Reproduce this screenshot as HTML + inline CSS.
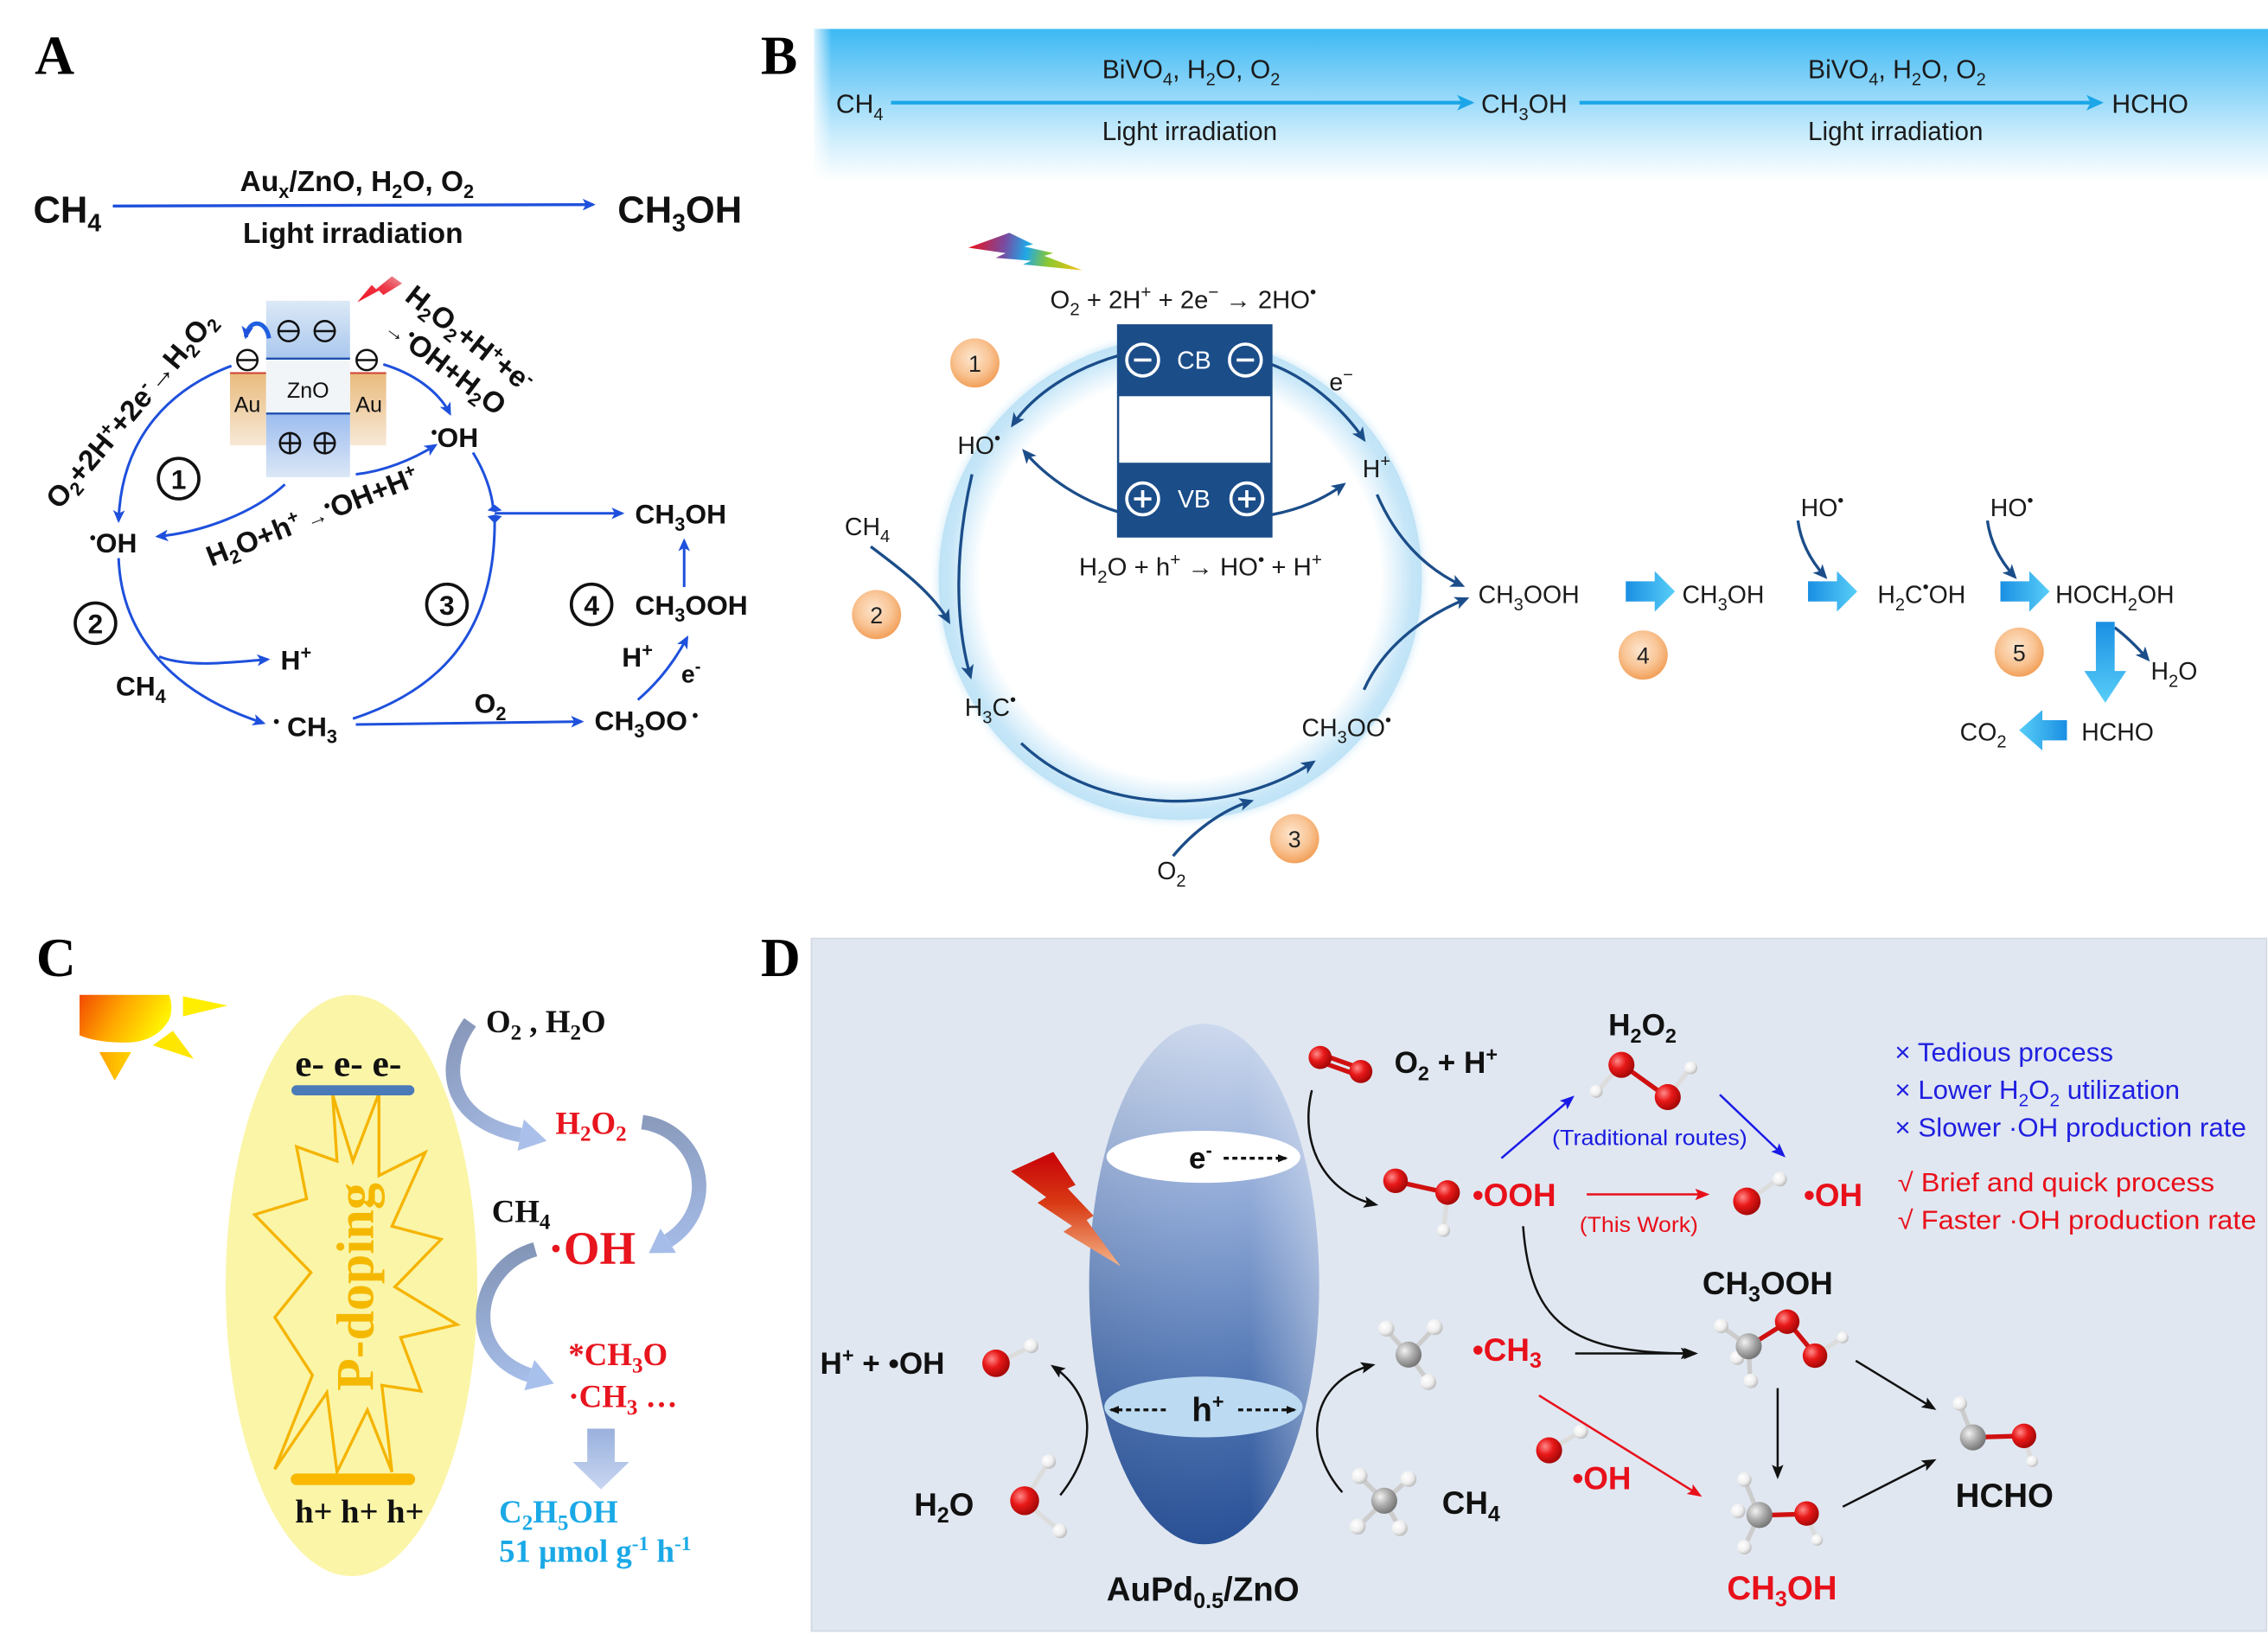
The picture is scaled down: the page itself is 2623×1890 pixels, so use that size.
<!DOCTYPE html>
<html><head><meta charset="utf-8">
<style>
html,body{margin:0;padding:0;background:#fff;}
svg{display:block;}
</style></head><body>
<svg xmlns="http://www.w3.org/2000/svg" width="2623" height="1890" viewBox="0 0 1568 1130" preserveAspectRatio="none">
<defs>
<marker id="mA" viewBox="0 0 10 10" refX="8" refY="5" markerWidth="9" markerHeight="9" orient="auto" markerUnits="userSpaceOnUse"><path d="M0,0.5 L10,5 L0,9.5 L2.5,5 z" fill="#1e50dc"/></marker>
<marker id="mB" viewBox="0 0 10 10" refX="8" refY="5" markerWidth="10" markerHeight="10" orient="auto" markerUnits="userSpaceOnUse"><path d="M0,0.5 L10,5 L0,9.5 L2.5,5 z" fill="#1b4d89"/></marker>
<marker id="mS" viewBox="0 0 10 10" refX="8" refY="5" markerWidth="12" markerHeight="12" orient="auto" markerUnits="userSpaceOnUse"><path d="M0,0.5 L10,5 L0,9.5 L2.5,5 z" fill="#1ca6e8"/></marker>
<marker id="mK" viewBox="0 0 10 10" refX="8" refY="5" markerWidth="10" markerHeight="10" orient="auto" markerUnits="userSpaceOnUse"><path d="M0,1 L10,5 L0,9 L2,5 z" fill="#111"/></marker>
<marker id="mKs" viewBox="0 0 10 10" refX="8" refY="5" markerWidth="7" markerHeight="7" orient="auto" markerUnits="userSpaceOnUse"><path d="M0,1 L10,5 L0,9 z" fill="#111"/></marker>
<marker id="mR" viewBox="0 0 10 10" refX="8" refY="5" markerWidth="10" markerHeight="10" orient="auto" markerUnits="userSpaceOnUse"><path d="M0,1 L10,5 L0,9 L2,5 z" fill="#e8101a"/></marker>
<marker id="mU" viewBox="0 0 10 10" refX="8" refY="5" markerWidth="10" markerHeight="10" orient="auto" markerUnits="userSpaceOnUse"><path d="M0,1 L10,5 L0,9 L2,5 z" fill="#1a1ae6"/></marker>

<linearGradient id="gZnTop" x1="0" y1="0" x2="0" y2="1"><stop offset="0" stop-color="#dce9f6"/><stop offset="1" stop-color="#a9c7ee"/></linearGradient>
<linearGradient id="gZnBot" x1="0" y1="0" x2="0" y2="1"><stop offset="0" stop-color="#9cbcef"/><stop offset="1" stop-color="#dbe7f6"/></linearGradient>
<linearGradient id="gAu" x1="0" y1="0" x2="0" y2="1"><stop offset="0" stop-color="#e9bb7e"/><stop offset="1" stop-color="#f7e8d6"/></linearGradient>
<linearGradient id="gRedA" x1="0" y1="1" x2="1" y2="0"><stop offset="0" stop-color="#f01020"/><stop offset="0.6" stop-color="#ee3a48"/><stop offset="1" stop-color="#e898a0"/></linearGradient>
<linearGradient id="gSky" x1="0" y1="0" x2="0" y2="1"><stop offset="0" stop-color="#3cb9f3"/><stop offset="0.35" stop-color="#82d1f8"/><stop offset="0.7" stop-color="#c9ecfc"/><stop offset="1" stop-color="#ffffff"/></linearGradient>
<linearGradient id="gSkyL" x1="0" y1="0" x2="1" y2="0"><stop offset="0" stop-color="#fff" stop-opacity="0.8"/><stop offset="1" stop-color="#fff" stop-opacity="0"/></linearGradient>
<radialGradient id="gRing" cx="0.5" cy="0.5" r="0.5"><stop offset="0" stop-color="#fff"/><stop offset="0.83" stop-color="#fff"/><stop offset="0.94" stop-color="#cfeaf9"/><stop offset="1" stop-color="#b9e0f5"/></radialGradient>
<radialGradient id="gOr" cx="0.45" cy="0.4" r="0.6"><stop offset="0" stop-color="#fde6cf"/><stop offset="0.6" stop-color="#f9c494"/><stop offset="1" stop-color="#f2a05a"/></radialGradient>
<linearGradient id="gBlk" x1="0" y1="0" x2="1" y2="0"><stop offset="0" stop-color="#1a8fe3"/><stop offset="1" stop-color="#58cef8"/></linearGradient>
<linearGradient id="gBlkL" x1="1" y1="0" x2="0" y2="0"><stop offset="0" stop-color="#1a8fe3"/><stop offset="1" stop-color="#58cef8"/></linearGradient>
<linearGradient id="gBlkD" x1="0" y1="0" x2="0" y2="1"><stop offset="0" stop-color="#1a8fe3"/><stop offset="1" stop-color="#58cef8"/></linearGradient>
<linearGradient id="gRain" gradientUnits="userSpaceOnUse" x1="669" y1="172" x2="748" y2="187"><stop offset="0" stop-color="#f01018"/><stop offset="0.3" stop-color="#7a4aa0"/><stop offset="0.5" stop-color="#20a8e8"/><stop offset="0.7" stop-color="#8cc830"/><stop offset="1" stop-color="#f8c010"/></linearGradient>
<linearGradient id="gSun" x1="0" y1="0" x2="1" y2="0.3"><stop offset="0" stop-color="#f24a00"/><stop offset="0.5" stop-color="#ffa800"/><stop offset="1" stop-color="#fff200"/></linearGradient>
<linearGradient id="gRay" x1="0" y1="0" x2="1" y2="0"><stop offset="0" stop-color="#ffa400"/><stop offset="1" stop-color="#ffd400"/></linearGradient>
<linearGradient id="gC1" gradientUnits="userSpaceOnUse" x1="320" y1="705" x2="380" y2="790"><stop offset="0" stop-color="#8797ba"/><stop offset="1" stop-color="#aac0ea"/></linearGradient>
<linearGradient id="gC2" gradientUnits="userSpaceOnUse" x1="444" y1="775" x2="450" y2="868"><stop offset="0" stop-color="#8a9bbd"/><stop offset="1" stop-color="#a6bde9"/></linearGradient>
<linearGradient id="gC3" gradientUnits="userSpaceOnUse" x1="370" y1="862" x2="385" y2="958"><stop offset="0" stop-color="#8496b8"/><stop offset="1" stop-color="#a8c0ec"/></linearGradient>
<linearGradient id="gCd" x1="0" y1="0" x2="0" y2="1"><stop offset="0" stop-color="#9ab1dd"/><stop offset="1" stop-color="#c8d6f1"/></linearGradient>
<linearGradient id="gDell" x1="0" y1="0" x2="0" y2="1"><stop offset="0" stop-color="#cdd9ee"/><stop offset="0.35" stop-color="#8ea8d6"/><stop offset="0.7" stop-color="#4f74b2"/><stop offset="1" stop-color="#274f95"/></linearGradient>
<linearGradient id="gDellH" x1="0" y1="0" x2="1" y2="0"><stop offset="0" stop-color="#000" stop-opacity="0.06"/><stop offset="0.7" stop-color="#fff" stop-opacity="0"/><stop offset="1" stop-color="#fff" stop-opacity="0.35"/></linearGradient>
<linearGradient id="gBoltD" x1="0" y1="0" x2="0" y2="1"><stop offset="0" stop-color="#c80008"/><stop offset="0.45" stop-color="#d83a14"/><stop offset="1" stop-color="#f5b488"/></linearGradient>
<radialGradient id="bR" cx="0.35" cy="0.35" r="0.7"><stop offset="0" stop-color="#ff8a8a"/><stop offset="0.45" stop-color="#e81818"/><stop offset="1" stop-color="#a00606"/></radialGradient>
<radialGradient id="bW" cx="0.35" cy="0.35" r="0.7"><stop offset="0" stop-color="#ffffff"/><stop offset="0.6" stop-color="#eeeeee"/><stop offset="1" stop-color="#b8b8b8"/></radialGradient>
<radialGradient id="bG" cx="0.35" cy="0.35" r="0.7"><stop offset="0" stop-color="#f2f2f2"/><stop offset="0.5" stop-color="#acacac"/><stop offset="1" stop-color="#727272"/></radialGradient>
<filter id="blur2"><feGaussianBlur stdDeviation="3"/></filter>
</defs>

<!-- ===== Panel labels ===== -->
<g font-family="Liberation Serif, serif" font-weight="bold" font-size="38" fill="#000">
<text x="24" y="51">A</text>
<text x="526" y="51">B</text>
<text x="25" y="675">C</text>
<text x="526" y="675">D</text>
</g>

<!-- ===== Panel A ===== -->
<g font-family="Liberation Sans, Arial, sans-serif" font-weight="bold" fill="#111">
<text x="23" y="154" font-size="26">CH<tspan dy="6" font-size="17">4</tspan></text>
<text x="427" y="154" font-size="26">CH<tspan dy="6" font-size="17">3</tspan><tspan dy="-6">OH</tspan></text>
<text x="166" y="132" font-size="20">Au<tspan dy="5" font-size="13">x</tspan><tspan dy="-5">/ZnO, H</tspan><tspan dy="5" font-size="13">2</tspan><tspan dy="-5">O, O</tspan><tspan dy="5" font-size="13">2</tspan></text>
<text x="168" y="168" font-size="20">Light irradiation</text>
</g>
<path d="M78,142.5 L410,141.5" stroke="#1e50dc" stroke-width="2" fill="none" marker-end="url(#mA)"/>

<!-- band diagram -->
<rect x="159" y="258" width="25" height="50" fill="url(#gAu)"/>
<rect x="242" y="258" width="25" height="50" fill="url(#gAu)"/>
<line x1="159" y1="258" x2="184" y2="258" stroke="#d04030" stroke-width="1.2"/>
<line x1="242" y1="258" x2="267" y2="258" stroke="#d04030" stroke-width="1.2"/>
<rect x="184" y="208" width="58" height="40" fill="url(#gZnTop)"/>
<rect x="184" y="248" width="58" height="38" fill="#f2f5f8"/>
<rect x="184" y="286" width="58" height="44" fill="url(#gZnBot)"/>
<line x1="184" y1="248" x2="242" y2="248" stroke="#1e50b0" stroke-width="1.4"/>
<line x1="184" y1="286" x2="242" y2="286" stroke="#1e50b0" stroke-width="1.4"/>
<g font-family="Liberation Sans, Arial, sans-serif" font-size="15" fill="#111">
<text x="213" y="275" text-anchor="middle">ZnO</text>
<text x="171" y="285" text-anchor="middle">Au</text>
<text x="255" y="285" text-anchor="middle">Au</text>
</g>
<g stroke="#111" stroke-width="1.5" fill="none">
<circle cx="199.5" cy="229" r="7"/><line x1="193" y1="229" x2="206" y2="229"/>
<circle cx="224.5" cy="229" r="7"/><line x1="218" y1="229" x2="231" y2="229"/>
<circle cx="171" cy="249" r="7"/><line x1="164.5" y1="249" x2="177.5" y2="249"/>
<circle cx="253.5" cy="249" r="7"/><line x1="247" y1="249" x2="260" y2="249"/>
<circle cx="200.5" cy="306.5" r="7"/><line x1="194" y1="306.5" x2="207" y2="306.5"/><line x1="200.5" y1="300" x2="200.5" y2="313"/>
<circle cx="224.5" cy="306.5" r="7"/><line x1="218" y1="306.5" x2="231" y2="306.5"/><line x1="224.5" y1="300" x2="224.5" y2="313"/>
</g>
<path d="M186,234 C184,221 172,220 170,233" stroke="#2060e0" stroke-width="3" fill="none" marker-end="url(#mA)"/>
<polygon points="247,209 257,197 260,200 271,191 278,196 265,204 262,201" fill="url(#gRedA)"/>

<g stroke="#1e50dc" stroke-width="1.8" fill="none">
<path d="M160,253 C120,268 84,300 82,360" marker-end="url(#mA)"/>
<path d="M197,335 C175,355 140,368 109,371" marker-end="url(#mA)"/>
<path d="M246,328 C265,326 285,318 301,308" marker-end="url(#mA)"/>
<path d="M265,252 C285,258 303,270 311,286" marker-end="url(#mA)"/>
<path d="M327,313 C335,326 340,340 341,352"/>
<path d="M244,497 C302,478 342,440 342,361"/>
<path d="M342,355 L430,355" marker-end="url(#mA)"/>
<path d="M82,386 C84,440 120,480 182,500" marker-end="url(#mA)"/>
<path d="M110,454 C130,462 160,458 185,456" marker-end="url(#mA)"/>
<path d="M246,501 L402,499" marker-end="url(#mA)"/>
<path d="M441,484 C455,472 466,458 475,441" marker-end="url(#mA)"/>
<path d="M473,406 L473,374" marker-end="url(#mA)"/>
</g>
<polygon points="342,349 337,353 342,354 347,353" fill="#1e50dc"/>
<polygon points="342,356 337,357 342,362 347,357" fill="#1e50dc"/>

<g font-family="Liberation Sans, Arial, sans-serif" font-weight="bold" fill="#111" font-size="19">
<text transform="translate(41,353) rotate(-50)" font-size="20">O<tspan dy="4" font-size="13">2</tspan><tspan dy="-4">+2H</tspan><tspan dy="-7" font-size="13">+</tspan><tspan dy="7">+2e</tspan><tspan dy="-7" font-size="13">-</tspan><tspan dy="7" font-weight="normal">→</tspan>H<tspan dy="4" font-size="13">2</tspan><tspan dy="-4">O</tspan><tspan dy="4" font-size="13">2</tspan></text>
<text transform="translate(279,207) rotate(38)" font-size="20">H<tspan dy="4" font-size="13">2</tspan><tspan dy="-4">O</tspan><tspan dy="4" font-size="13">2</tspan><tspan dy="-4">+H</tspan><tspan dy="-7" font-size="13">+</tspan><tspan dy="7">+e</tspan><tspan dy="-7" font-size="13">-</tspan></text>
<text transform="translate(265,229) rotate(37)" font-size="20"><tspan font-weight="normal" font-size="15">→</tspan><tspan font-size="12" dy="-6">•</tspan><tspan dy="6">OH+H</tspan><tspan dy="4" font-size="13">2</tspan><tspan dy="-4">O</tspan></text>
<text transform="translate(146,392) rotate(-21.5)" font-size="20">H<tspan dy="4" font-size="13">2</tspan><tspan dy="-4">O+h</tspan><tspan dy="-7" font-size="13">+</tspan><tspan dy="7" font-weight="normal" font-size="15"> →</tspan><tspan font-size="12" dy="-6">•</tspan><tspan dy="6">OH+H</tspan><tspan dy="-7" font-size="13">+</tspan></text>

<text x="62" y="382"><tspan font-size="12" dy="-6">•</tspan><tspan dy="6">OH</tspan></text>
<text x="298" y="309"><tspan font-size="12" dy="-6">•</tspan><tspan dy="6">OH</tspan></text>
<text x="439" y="362">CH<tspan dy="5" font-size="13">3</tspan><tspan dy="-5">OH</tspan></text>
<text x="439" y="425">CH<tspan dy="5" font-size="13">3</tspan><tspan dy="-5">OOH</tspan></text>
<text x="194" y="463">H<tspan dy="-7" font-size="13">+</tspan></text>
<text x="80" y="481">CH<tspan dy="5" font-size="13">4</tspan></text>
<text x="189" y="509"><tspan font-size="12" dy="-6">•</tspan><tspan dy="6"> CH</tspan><tspan dy="5" font-size="13">3</tspan></text>
<text x="328" y="493">O<tspan dy="5" font-size="13">2</tspan></text>
<text x="411" y="505">CH<tspan dy="5" font-size="13">3</tspan><tspan dy="-5">OO</tspan><tspan font-size="12" dy="-6"> •</tspan></text>
<text x="430" y="461">H<tspan dy="-7" font-size="13">+</tspan></text>
<text x="471" y="472" font-size="17">e<tspan dy="-7" font-size="12">-</tspan></text>
</g>
<g font-family="Liberation Sans, Arial, sans-serif" font-weight="bold" font-size="19" fill="#111" text-anchor="middle">
<circle cx="123.5" cy="331" r="14" fill="none" stroke="#111" stroke-width="2.2"/><text x="123.5" y="338">1</text>
<circle cx="66" cy="431" r="14" fill="none" stroke="#111" stroke-width="2.2"/><text x="66" y="438">2</text>
<circle cx="309" cy="418" r="14" fill="none" stroke="#111" stroke-width="2.2"/><text x="309" y="425">3</text>
<circle cx="409" cy="418" r="14" fill="none" stroke="#111" stroke-width="2.2"/><text x="409" y="425">4</text>
</g>

<!-- ===== Panel B ===== -->
<rect x="563" y="20" width="1005" height="105" fill="url(#gSky)"/>
<rect x="563" y="20" width="12" height="105" fill="url(#gSkyL)"/>
<path d="M616,71 L1017,71" stroke="#1ca6e8" stroke-width="2.6" marker-end="url(#mS)"/>
<path d="M1092,71 L1452,71" stroke="#1ca6e8" stroke-width="2.6" marker-end="url(#mS)"/>
<g font-family="Liberation Sans, Arial, sans-serif" font-size="18" fill="#1a1a1a">
<text x="578" y="78">CH<tspan dy="5" font-size="12">4</tspan></text>
<text x="762" y="54" textLength="123" lengthAdjust="spacingAndGlyphs">BiVO<tspan dy="5" font-size="12">4</tspan><tspan dy="-5">, H</tspan><tspan dy="5" font-size="12">2</tspan><tspan dy="-5">O, O</tspan><tspan dy="5" font-size="12">2</tspan></text>
<text x="762" y="97" textLength="121" lengthAdjust="spacingAndGlyphs">Light irradiation</text>
<text x="1024" y="78">CH<tspan dy="5" font-size="12">3</tspan><tspan dy="-5">OH</tspan></text>
<text x="1250" y="54" textLength="123" lengthAdjust="spacingAndGlyphs">BiVO<tspan dy="5" font-size="12">4</tspan><tspan dy="-5">, H</tspan><tspan dy="5" font-size="12">2</tspan><tspan dy="-5">O, O</tspan><tspan dy="5" font-size="12">2</tspan></text>
<text x="1250" y="97" textLength="121" lengthAdjust="spacingAndGlyphs">Light irradiation</text>
<text x="1460" y="78">HCHO</text>
</g>

<!-- ring -->
<circle cx="816" cy="400" r="167" fill="url(#gRing)"/>
<circle cx="816" cy="400" r="164" fill="none" stroke="#c3e5f7" stroke-width="6" filter="url(#blur2)"/>

<!-- rainbow lightning -->
<polygon points="669.5,171.3 697.8,161 714.3,169 708,170.5 728.2,175 722,177 748.2,186.9 707.3,182.9 712.9,180.3 688.4,178.3 695.3,175" fill="url(#gRain)"/>

<!-- CB/VB box -->
<rect x="773" y="225" width="106" height="146" fill="#fff" stroke="#1b4d89" stroke-width="1.5"/>
<rect x="773" y="225" width="106" height="49" fill="#1b4d89"/>
<rect x="773" y="320" width="106" height="51" fill="#1b4d89"/>
<g stroke="#fff" stroke-width="2.2" fill="none">
<circle cx="790" cy="249" r="11"/><line x1="784" y1="249" x2="796" y2="249"/>
<circle cx="861" cy="249" r="11"/><line x1="855" y1="249" x2="867" y2="249"/>
<circle cx="790" cy="345" r="11"/><line x1="784" y1="345" x2="796" y2="345"/><line x1="790" y1="339" x2="790" y2="351"/>
<circle cx="862" cy="345" r="11"/><line x1="856" y1="345" x2="868" y2="345"/><line x1="862" y1="339" x2="862" y2="351"/>
</g>
<g font-family="Liberation Sans, Arial, sans-serif" font-size="17" fill="#fff" text-anchor="middle">
<text x="825.5" y="255">CB</text>
<text x="825.5" y="351">VB</text>
</g>

<g stroke="#1b4d89" stroke-width="2" fill="none">
<path d="M773,246 C742,255 715,272 700,294" marker-end="url(#mB)"/>
<path d="M773,354 C748,346 725,332 708,312" marker-end="url(#mB)"/>
<path d="M879,252 C905,262 928,282 943,304" marker-end="url(#mB)"/>
<path d="M879,356 C900,352 915,345 929,335" marker-end="url(#mB)"/>
<path d="M952,342 C965,372 985,393 1011,405" marker-end="url(#mB)"/>
<path d="M672,328 C660,380 660,430 671,468" marker-end="url(#mB)"/>
<path d="M602,378 C622,393 645,410 656,430" marker-end="url(#mB)"/>
<path d="M706,514 C760,565 850,565 908,527" marker-end="url(#mB)"/>
<path d="M811,592 C825,575 845,560 865,554" marker-end="url(#mB)"/>
<path d="M943,477 C955,450 980,428 1014,414" marker-end="url(#mB)"/>
<path d="M1243,360 C1245,375 1252,388 1262,399" marker-end="url(#mB)"/>
<path d="M1374,360 C1376,375 1383,388 1393,399" marker-end="url(#mB)"/>
<path d="M1462,434 C1470,440 1478,448 1485,456" marker-end="url(#mB)"/>
</g>

<!-- block arrows -->
<path d="M1124,402 H1144 V395 L1158,409 L1144,423 V416 H1124 Z" fill="url(#gBlk)"/>
<path d="M1250,402 H1270 V395 L1284,409 L1270,423 V416 H1250 Z" fill="url(#gBlk)"/>
<path d="M1383,402 H1403 V395 L1417,409 L1403,423 V416 H1383 Z" fill="url(#gBlk)"/>
<path d="M1449,430 H1462 V464 H1470 L1455.5,486 L1441,464 H1449 Z" fill="url(#gBlkD)"/>
<path d="M1429,498 V512 H1412 V519 L1396,505 L1412,491 V498 Z" fill="url(#gBlkL)"/>

<!-- orange number circles -->
<g font-family="Liberation Sans, Arial, sans-serif" font-size="16" fill="#222" text-anchor="middle">
<circle cx="674" cy="251" r="17" fill="url(#gOr)"/><text x="674" y="257">1</text>
<circle cx="606" cy="425" r="17" fill="url(#gOr)"/><text x="606" y="431">2</text>
<circle cx="895" cy="580" r="17" fill="url(#gOr)"/><text x="895" y="586">3</text>
<circle cx="1136" cy="453" r="17" fill="url(#gOr)"/><text x="1136" y="459">4</text>
<circle cx="1396" cy="451" r="17" fill="url(#gOr)"/><text x="1396" y="457">5</text>
</g>

<g font-family="Liberation Sans, Arial, sans-serif" font-size="17" fill="#1a1a1a">
<text x="726" y="213" textLength="184" lengthAdjust="spacingAndGlyphs">O<tspan dy="5" font-size="12">2</tspan><tspan dy="-5"> + 2H</tspan><tspan dy="-7" font-size="12">+</tspan><tspan dy="7"> + 2e</tspan><tspan dy="-7" font-size="12">−</tspan><tspan dy="7"> → 2HO</tspan><tspan dy="-7" font-size="12">•</tspan></text>
<text x="746" y="398" textLength="168" lengthAdjust="spacingAndGlyphs">H<tspan dy="5" font-size="12">2</tspan><tspan dy="-5">O + h</tspan><tspan dy="-7" font-size="12">+</tspan><tspan dy="7"> → HO</tspan><tspan dy="-7" font-size="12">•</tspan><tspan dy="7"> + H</tspan><tspan dy="-7" font-size="12">+</tspan></text>
<text x="662" y="314">HO<tspan dy="-7" font-size="12">•</tspan></text>
<text x="919" y="270">e<tspan dy="-7" font-size="12">−</tspan></text>
<text x="942" y="330">H<tspan dy="-7" font-size="12">+</tspan></text>
<text x="584" y="370">CH<tspan dy="5" font-size="12">4</tspan></text>
<text x="667" y="495">H<tspan dy="5" font-size="12">3</tspan><tspan dy="-5">C</tspan><tspan dy="-7" font-size="12">•</tspan></text>
<text x="900" y="509">CH<tspan dy="5" font-size="12">3</tspan><tspan dy="-5">OO</tspan><tspan dy="-7" font-size="12">•</tspan></text>
<text x="800" y="608">O<tspan dy="5" font-size="12">2</tspan></text>
<text x="1022" y="417">CH<tspan dy="5" font-size="12">3</tspan><tspan dy="-5">OOH</tspan></text>
<text x="1163" y="417">CH<tspan dy="5" font-size="12">3</tspan><tspan dy="-5">OH</tspan></text>
<text x="1298" y="417">H<tspan dy="5" font-size="12">2</tspan><tspan dy="-5">C</tspan><tspan dy="-7" font-size="12">•</tspan><tspan dy="7">OH</tspan></text>
<text x="1421" y="417">HOCH<tspan dy="5" font-size="12">2</tspan><tspan dy="-5">OH</tspan></text>
<text x="1245" y="357">HO<tspan dy="-7" font-size="12">•</tspan></text>
<text x="1376" y="357">HO<tspan dy="-7" font-size="12">•</tspan></text>
<text x="1487" y="470">H<tspan dy="5" font-size="12">2</tspan><tspan dy="-5">O</tspan></text>
<text x="1439" y="512">HCHO</text>
<text x="1355" y="512">CO<tspan dy="5" font-size="12">2</tspan></text>
</g>

<!-- ===== Panel C ===== -->
<path d="M55,688 H117 C119,694 119,700 117,705 C111,716 100,721 87,721 C72,721 62,719 55,716 Z" fill="url(#gSun)"/>
<polygon points="126.5,689 157.4,695.4 126.5,702.9" fill="#ffee00"/>
<polygon points="105.6,722.9 119.5,712.9 133.9,732.2" fill="#ffe600"/>
<polygon points="68.7,727.6 90.7,727.6 79.3,747.2" fill="url(#gRay)"/>

<ellipse cx="243" cy="889" rx="87" ry="201" fill="#fbf5a8"/>
<polygon fill="none" stroke="#f5b400" stroke-width="2" stroke-linejoin="miter" points="230,757 244,803 262,756 262,813 294,797 271,848 305,857 273,890 316,916 277,925 291,962 264,958 271,1018 254,975 233,1018 226,963 190,1016 216,951 190,911 215,880 176,840 212,829 205,793 233,803"/>
<line x1="205" y1="754" x2="283" y2="754" stroke="#4a7ab8" stroke-width="7" stroke-linecap="round"/>
<line x1="205" y1="1023" x2="283" y2="1023" stroke="#f8b900" stroke-width="8" stroke-linecap="round"/>
<text transform="translate(258,890) rotate(-90)" text-anchor="middle" font-family="Liberation Serif, serif" font-weight="bold" font-size="37" fill="#f5b800">P-doping</text>
<g font-family="Liberation Serif, serif" font-weight="bold" fill="#111">
<text x="204" y="744" font-size="26">e- e- e-</text>
<text x="204" y="1053" font-size="23">h+ h+ h+</text>
<text x="336" y="714" font-size="22">O<tspan dy="5" font-size="15">2</tspan><tspan dy="-5"> , H</tspan><tspan dy="5" font-size="15">2</tspan><tspan dy="-5">O</tspan></text>
<text x="340" y="845" font-size="22">CH<tspan dy="5" font-size="15">4</tspan></text>
</g>
<g font-family="Liberation Serif, serif" font-weight="bold" fill="#e8141e">
<text x="384" y="784" font-size="22">H<tspan dy="5" font-size="15">2</tspan><tspan dy="-5">O</tspan><tspan dy="5" font-size="15">2</tspan></text>
<text x="379" y="874" font-size="32">·OH</text>
<text x="393" y="944" font-size="22">*CH<tspan dy="5" font-size="15">3</tspan><tspan dy="-5">O</tspan></text>
<text x="393" y="973" font-size="22">·CH<tspan dy="5" font-size="15">3</tspan><tspan dy="-5"> …</tspan></text>
</g>
<g font-family="Liberation Serif, serif" font-weight="bold" fill="#1aa9e6" font-size="22">
<text x="345" y="1053">C<tspan dy="5" font-size="15">2</tspan><tspan dy="-5">H</tspan><tspan dy="5" font-size="15">5</tspan><tspan dy="-5">OH</tspan></text>
<text x="345" y="1080">51 μmol g<tspan dy="-8" font-size="14">-1</tspan><tspan dy="8"> h</tspan><tspan dy="-8" font-size="14">-1</tspan></text>
</g>
<!-- C arrows -->
<path d="M325,707 C303,738 310,775 360,785" stroke="url(#gC1)" stroke-width="10" fill="none"/>
<polygon points="357.8,795.8 378,789 362.2,774.2" fill="#aac0ea"/>
<path d="M444,776 C486,782 498,835 462,858" stroke="url(#gC2)" stroke-width="10" fill="none"/>
<polygon points="467.4,866.4 448.6,866.6 456.6,849.6" fill="#a6bde9"/>
<path d="M370,864 C328,876 318,935 366,951" stroke="url(#gC3)" stroke-width="10" fill="none"/>
<polygon points="362.5,961.5 383,956.8 369.5,940.5" fill="#a8c0ec"/>
<path d="M406,988 H425 V1011 H435 L415.5,1030 L396,1011 H406 Z" fill="url(#gCd)"/>

<!-- ===== Panel D ===== -->
<rect x="561" y="649" width="1006" height="479" fill="#e0e7f1" stroke="#d2d9e3" stroke-width="1"/>
<ellipse cx="832.5" cy="888" rx="79.5" ry="180" fill="url(#gDell)"/>
<ellipse cx="832.5" cy="888" rx="79.5" ry="180" fill="url(#gDellH)"/>
<ellipse cx="832" cy="800" rx="67" ry="18" fill="#ffffff"/>
<ellipse cx="832" cy="973" rx="68.5" ry="21" fill="#bcdaf1"/>
<polygon points="698.9,810 728.2,796.6 743.6,819.5 738.2,821.9 756.1,840.8 751.2,843.8 774.7,875.7 735.2,851.8 741.2,847.8 717.3,831.8 723.3,827.9" fill="url(#gBoltD)"/>

<g font-family="Liberation Sans, Arial, sans-serif" font-weight="bold" fill="#111">
<text x="822" y="808" font-size="21">e<tspan dy="-8" font-size="13">-</tspan></text>
<text x="824" y="983" font-size="23">h<tspan dy="-9" font-size="14">+</tspan></text>
</g>
<path d="M846,801 L889,801" stroke="#111" stroke-width="2" stroke-dasharray="3.5,2.5" marker-end="url(#mKs)"/>
<path d="M806,975 L768,975" stroke="#111" stroke-width="2" stroke-dasharray="3.5,2.5" marker-end="url(#mKs)"/>
<path d="M856,975 L895,975" stroke="#111" stroke-width="2" stroke-dasharray="3.5,2.5" marker-end="url(#mKs)"/>

<!-- arrows D -->
<g fill="none" stroke-width="1.5">
<path d="M907,754 C898,790 915,825 951,833" stroke="#111" marker-end="url(#mK)"/>
<path d="M1053,848 C1058,915 1085,936 1170,936" stroke="#111" marker-end="url(#mK)"/>
<path d="M1089,936 L1172,936" stroke="#111" marker-end="url(#mK)"/>
<path d="M733,1034 C760,1000 757,965 728,945" stroke="#111" marker-end="url(#mK)"/>
<path d="M928,1032 C900,1000 905,955 949,944" stroke="#111" marker-end="url(#mK)"/>
<path d="M1229,960 L1229,1021" stroke="#111" marker-end="url(#mK)"/>
<path d="M1283,941 L1337,974" stroke="#111" marker-end="url(#mK)"/>
<path d="M1274,1042 L1337,1010" stroke="#111" marker-end="url(#mK)"/>
<path d="M1038,801 L1087,759" stroke="#1a1ae6" marker-end="url(#mU)"/>
<path d="M1189,757 L1233,799" stroke="#1a1ae6" marker-end="url(#mU)"/>
<path d="M1097,826 L1180,826" stroke="#e8101a" marker-end="url(#mR)"/>
<path d="M1064,965 L1175,1034" stroke="#e8101a" marker-end="url(#mR)"/>
</g>

<!-- molecules: bonds -->
<g stroke-width="3.2" stroke-linecap="round">
<line x1="913" y1="729" x2="941" y2="739" stroke="#d01010"/>
<line x1="912" y1="734" x2="940" y2="744" stroke="#d01010"/>
<line x1="1104" y1="755" x2="1121" y2="736" stroke="#dcdcdc"/>
<line x1="1121" y1="736" x2="1153" y2="759" stroke="#d01010"/>
<line x1="1153" y1="759" x2="1169" y2="738" stroke="#dcdcdc"/>
<line x1="965" y1="817" x2="1001" y2="825" stroke="#d01010"/>
<line x1="1001" y1="825" x2="998" y2="851" stroke="#dcdcdc"/>
<line x1="1208" y1="831" x2="1230" y2="815" stroke="#dcdcdc"/>
<line x1="1190" y1="917" x2="1209" y2="931" stroke="#cccccc"/>
<line x1="1209" y1="931" x2="1210" y2="955" stroke="#cccccc"/>
<line x1="1209" y1="931" x2="1236" y2="914" stroke="#d01010"/>
<line x1="1236" y1="914" x2="1255" y2="937" stroke="#d01010"/>
<line x1="1255" y1="937" x2="1274" y2="925" stroke="#dcdcdc"/>
<line x1="1216" y1="1048" x2="1206" y2="1023" stroke="#cccccc"/>
<line x1="1216" y1="1048" x2="1206" y2="1070" stroke="#cccccc"/>
<line x1="1216" y1="1048" x2="1249" y2="1047" stroke="#d01010"/>
<line x1="1249" y1="1047" x2="1256" y2="1065" stroke="#dcdcdc"/>
<line x1="1364" y1="994" x2="1355" y2="971" stroke="#cccccc"/>
<line x1="1364" y1="994" x2="1399" y2="993" stroke="#d01010"/>
<line x1="1399" y1="993" x2="1405" y2="1011" stroke="#dcdcdc"/>
<line x1="689" y1="943" x2="713" y2="931" stroke="#dcdcdc"/>
<line x1="708" y1="1038" x2="725" y2="1011" stroke="#dcdcdc"/>
<line x1="708" y1="1038" x2="733" y2="1059" stroke="#dcdcdc"/>
<line x1="974" y1="937" x2="958" y2="919" stroke="#cccccc"/>
<line x1="974" y1="937" x2="992" y2="918" stroke="#cccccc"/>
<line x1="974" y1="937" x2="988" y2="956" stroke="#cccccc"/>
<line x1="957" y1="1038" x2="940" y2="1021" stroke="#cccccc"/>
<line x1="957" y1="1038" x2="974" y2="1023" stroke="#cccccc"/>
<line x1="957" y1="1038" x2="939" y2="1056" stroke="#cccccc"/>
<line x1="957" y1="1038" x2="968" y2="1057" stroke="#cccccc"/>
<line x1="1071" y1="1003" x2="1093" y2="990" stroke="#dcdcdc"/>
</g>
<!-- atoms -->
<g>
<circle cx="912.7" cy="731.3" r="8" fill="url(#bR)"/><circle cx="940.8" cy="741" r="8" fill="url(#bR)"/>
<circle cx="1103.6" cy="754.7" r="4.5" fill="url(#bW)"/><circle cx="1169" cy="738.4" r="4.5" fill="url(#bW)"/>
<circle cx="1121" cy="736.4" r="9" fill="url(#bR)"/><circle cx="1153" cy="758.7" r="9" fill="url(#bR)"/>
<circle cx="998" cy="851" r="4.5" fill="url(#bW)"/>
<circle cx="964.8" cy="816.6" r="8.5" fill="url(#bR)"/><circle cx="1000.8" cy="824.7" r="8.5" fill="url(#bR)"/>
<circle cx="1230.5" cy="815.5" r="5" fill="url(#bW)"/><circle cx="1207.7" cy="830.8" r="9.5" fill="url(#bR)"/>
<circle cx="1190" cy="917" r="5" fill="url(#bW)"/><circle cx="1201" cy="939" r="5" fill="url(#bW)"/><circle cx="1210.5" cy="955" r="5" fill="url(#bW)"/>
<circle cx="1209" cy="931" r="9" fill="url(#bG)"/>
<circle cx="1235.6" cy="914" r="8.5" fill="url(#bR)"/><circle cx="1254.8" cy="937.5" r="8.5" fill="url(#bR)"/><circle cx="1274" cy="925" r="4" fill="url(#bW)"/>
<circle cx="1206" cy="1023.3" r="5" fill="url(#bW)"/><circle cx="1201.7" cy="1045" r="5" fill="url(#bW)"/><circle cx="1206" cy="1070" r="5" fill="url(#bW)"/>
<circle cx="1216.4" cy="1047.7" r="9" fill="url(#bG)"/><circle cx="1249" cy="1046.7" r="8.5" fill="url(#bR)"/><circle cx="1256.3" cy="1065" r="4" fill="url(#bW)"/>
<circle cx="1355" cy="970.7" r="5" fill="url(#bW)"/><circle cx="1364" cy="994" r="9" fill="url(#bG)"/><circle cx="1399.3" cy="993" r="8.5" fill="url(#bR)"/><circle cx="1405" cy="1010.6" r="4" fill="url(#bW)"/>
<circle cx="713" cy="930.8" r="5" fill="url(#bW)"/><circle cx="688.6" cy="942.8" r="9.5" fill="url(#bR)"/>
<circle cx="725" cy="1010.8" r="5" fill="url(#bW)"/><circle cx="732.8" cy="1058.8" r="5" fill="url(#bW)"/><circle cx="708.4" cy="1037.8" r="10" fill="url(#bR)"/>
<circle cx="958.5" cy="918.8" r="5.5" fill="url(#bW)"/><circle cx="992" cy="917.8" r="5.5" fill="url(#bW)"/><circle cx="973.8" cy="936.8" r="9" fill="url(#bG)"/><circle cx="987.5" cy="955.8" r="5.5" fill="url(#bW)"/>
<circle cx="940" cy="1020.8" r="5.5" fill="url(#bW)"/><circle cx="973.8" cy="1022.8" r="5.5" fill="url(#bW)"/><circle cx="957" cy="1037.8" r="9" fill="url(#bG)"/><circle cx="938.7" cy="1055.8" r="5.5" fill="url(#bW)"/><circle cx="967.7" cy="1056.8" r="5.5" fill="url(#bW)"/>
<circle cx="1093" cy="990" r="5" fill="url(#bW)"/><circle cx="1071" cy="1003" r="9" fill="url(#bR)"/>
</g>

<!-- D texts -->
<g font-family="Liberation Sans, Arial, sans-serif" font-weight="bold" fill="#111">
<text x="964" y="742" font-size="21">O<tspan dy="5" font-size="14">2</tspan><tspan dy="-5"> + H</tspan><tspan dy="-8" font-size="14">+</tspan></text>
<text x="1112" y="716" font-size="21">H<tspan dy="5" font-size="14">2</tspan><tspan dy="-5">O</tspan><tspan dy="5" font-size="14">2</tspan></text>
<text x="1177" y="895" font-size="22">CH<tspan dy="5" font-size="15">3</tspan><tspan dy="-5">OOH</tspan></text>
<text x="567" y="950" font-size="21">H<tspan dy="-8" font-size="14">+</tspan><tspan dy="8"> + •OH</tspan></text>
<text x="632" y="1048" font-size="22">H<tspan dy="5" font-size="15">2</tspan><tspan dy="-5">O</tspan></text>
<text x="997" y="1047" font-size="22">CH<tspan dy="5" font-size="15">4</tspan></text>
<text x="1352" y="1042" font-size="23">HCHO</text>
<text x="765" y="1107" font-size="23">AuPd<tspan dy="5" font-size="15">0.5</tspan><tspan dy="-5">/ZnO</tspan></text>
</g>
<g font-family="Liberation Sans, Arial, sans-serif" font-weight="bold" fill="#e8101a">
<text x="1018" y="834" font-size="22">•OOH</text>
<text x="1247" y="834" font-size="22">•OH</text>
<text x="1018" y="941" font-size="22">•CH<tspan dy="5" font-size="15">3</tspan></text>
<text x="1087" y="1030" font-size="22">•OH</text>
<text x="1194" y="1106" font-size="23">CH<tspan dy="5" font-size="15">3</tspan><tspan dy="-5">OH</tspan></text>
</g>
<g font-family="Liberation Sans, Arial, sans-serif" font-size="15">
<text x="1073" y="792" fill="#1a1ae0" textLength="135" lengthAdjust="spacingAndGlyphs">(Traditional routes)</text>
<text x="1092" y="852" fill="#e8101a" textLength="82" lengthAdjust="spacingAndGlyphs">(This Work)</text>
</g>
<g font-family="Liberation Sans, Arial, sans-serif" font-size="18">
<text x="1310" y="734" fill="#2020e0" textLength="151" lengthAdjust="spacingAndGlyphs">× Tedious process</text>
<text x="1310" y="760" fill="#2020e0" textLength="197" lengthAdjust="spacingAndGlyphs">× Lower H<tspan dy="5" font-size="12">2</tspan><tspan dy="-5">O</tspan><tspan dy="5" font-size="12">2</tspan><tspan dy="-5"> utilization</tspan></text>
<text x="1310" y="786" fill="#2020e0" textLength="243" lengthAdjust="spacingAndGlyphs">× Slower ·OH production rate</text>
<text x="1312" y="824" fill="#e8101a" textLength="219" lengthAdjust="spacingAndGlyphs">√  Brief and quick process</text>
<text x="1312" y="850" fill="#e8101a" textLength="248" lengthAdjust="spacingAndGlyphs">√  Faster ·OH production rate</text>
</g>
</svg>
</body></html>
